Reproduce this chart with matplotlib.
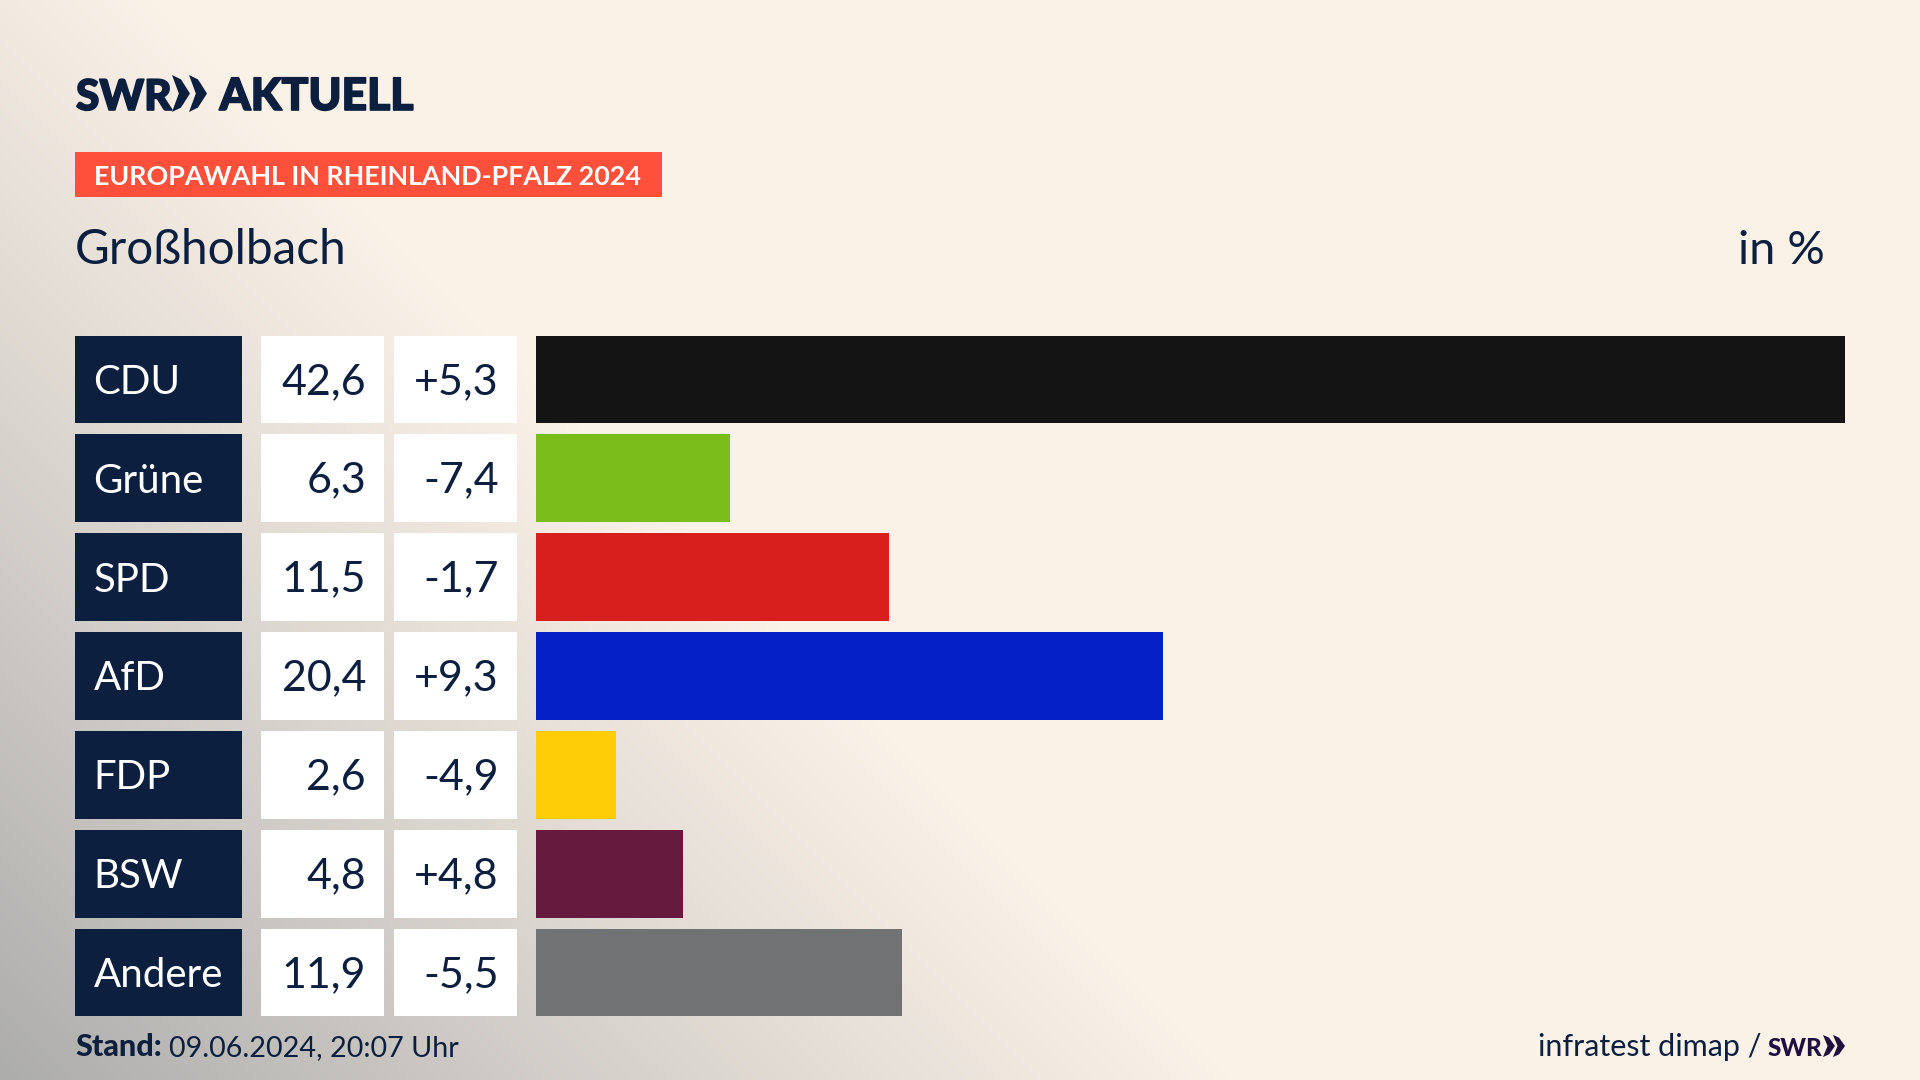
import numpy as np
from matplotlib import pyplot as plt
from matplotlib import patheffects
from matplotlib.colors import LinearSegmentedColormap
from matplotlib.patches import Polygon, Rectangle

parties = ['CDU', 'Grüne', 'SPD', 'AfD', 'FDP', 'BSW', 'Andere']
shares = [42.6, 6.3, 11.5, 20.4, 2.6, 4.8, 11.9]
changes = [5.3, -7.4, -1.7, 9.3, -4.9, 4.8, -5.5]
colors = ['#141414', '#7abd1a', '#d7201e', '#0220c6', '#ffcc08', '#661a3e', '#707274']

NAVY = '#0c1f3f'
PURPLE = '#1f1040'
W, H = 1920, 1080
plt.rcParams['font.family'] = ['Lato', 'DejaVu Sans']

fig = plt.figure(figsize=(19.2, 10.8), dpi=100)

# full figure axes in pixels, for the backdrop, boxes and text
ax = fig.add_axes([0, 0, 1, 1])
ax.set_xlim(0, W)
ax.set_ylim(H, 0)
ax.axis('off')

# diagonal grey shade towards the bottom left corner
xx, yy = np.meshgrid(np.linspace(0, W, 480), np.linspace(0, H, 270))
shade = np.clip((yy - xx + 160) / (H + 160), 0, 1) ** 1.1
cmap = LinearSegmentedColormap.from_list('bg', ['#faf1e7', '#adadac'])
ax.imshow(shade, extent=[0, W, H, 0], cmap=cmap, vmin=0, vmax=1, aspect='auto', zorder=0)

row_y = [379.3 + i * 98.9 for i in range(len(parties))]
row_h = 87.5

for y, party, share, change in zip(row_y, parties, shares, changes):
    top = y - row_h / 2
    ax.add_patch(Rectangle((75, top), 167, row_h, color=NAVY, lw=0, zorder=2))
    ax.add_patch(Rectangle((261, top), 123, row_h, color='white', lw=0, zorder=2))
    ax.add_patch(Rectangle((394, top), 123, row_h, color='white', lw=0, zorder=2))
    ax.text(93.5, y + 14.5, party, color='white', fontsize=29, va='baseline', zorder=3)
    ax.text(366, y + 14.5, f'{share:.1f}'.replace('.', ','), color=NAVY, fontsize=31,
            ha='right', va='baseline', zorder=3)
    ax.text(499, y + 14.5, f'{change:+.1f}'.replace('.', ','), color=NAVY, fontsize=31,
            ha='right', va='baseline', zorder=3)

# bars
ax_bars = fig.add_axes([536 / W, 0, 1309 / W, 1])
ax_bars.patch.set_alpha(0)
ax_bars.barh(row_y, shares, height=row_h, color=colors, lw=0)
ax_bars.set_xlim(0, 42.6)
ax_bars.set_ylim(H, 0)
ax_bars.axis('off')


def chevrons(x, y0, y1, w, gap, color):
    # the two arrows of the SWR logo
    mid = (y0 + y1) / 2
    h = y1 - y0
    for i in range(2):
        left = x + i * gap
        ax.add_patch(Polygon([(left, y0), (left + w * 0.5, y0 + h * 0.12), (left + w, mid),
                              (left + w * 0.5, y1 - h * 0.12), (left, y1),
                              (left + w * 0.38, mid)],
                             closed=True, color=color, lw=0, zorder=3))


# slightly heavier than Lato Black, like the logo lettering
heavy = [patheffects.withStroke(linewidth=1.2, foreground=NAVY)]

# header
ax.text(76, 110, 'SWR', color=NAVY, fontsize=30.5, fontweight='black', va='baseline',
        path_effects=heavy)
chevrons(172, 75, 112, 18, 17, NAVY)
ax.text(219.5, 110, 'AKTUELL', color=NAVY, fontsize=32, fontweight='black', va='baseline',
        path_effects=heavy)

ax.add_patch(Rectangle((75, 152), 587, 45, color='#ff503c', lw=0, zorder=2))
ax.text(94, 185, 'EUROPAWAHL IN RHEINLAND-PFALZ 2024', color='white', fontsize=19.4,
        fontweight='bold', va='baseline', zorder=3)

ax.text(75, 264, 'Großholbach', color=NAVY, fontsize=34.4, va='baseline')
ax.text(1825, 264, 'in %', color=NAVY, fontsize=33.7, ha='right', va='baseline')

# footer
ax.text(75, 1056, 'Stand:', color=NAVY, fontsize=22, fontweight='black', va='baseline')
ax.text(169, 1056, '09.06.2024, 20:07 Uhr', color=NAVY, fontsize=20.7, va='baseline')
ax.text(1762, 1056, 'infratest dimap /', color=NAVY, fontsize=22, ha='right', va='baseline')
ax.text(1768, 1056, 'SWR', color=PURPLE, fontsize=17.5, fontweight='black', va='baseline')
chevrons(1823, 1035, 1057, 12, 10, PURPLE)

fig.savefig('out.png', dpi=100)
